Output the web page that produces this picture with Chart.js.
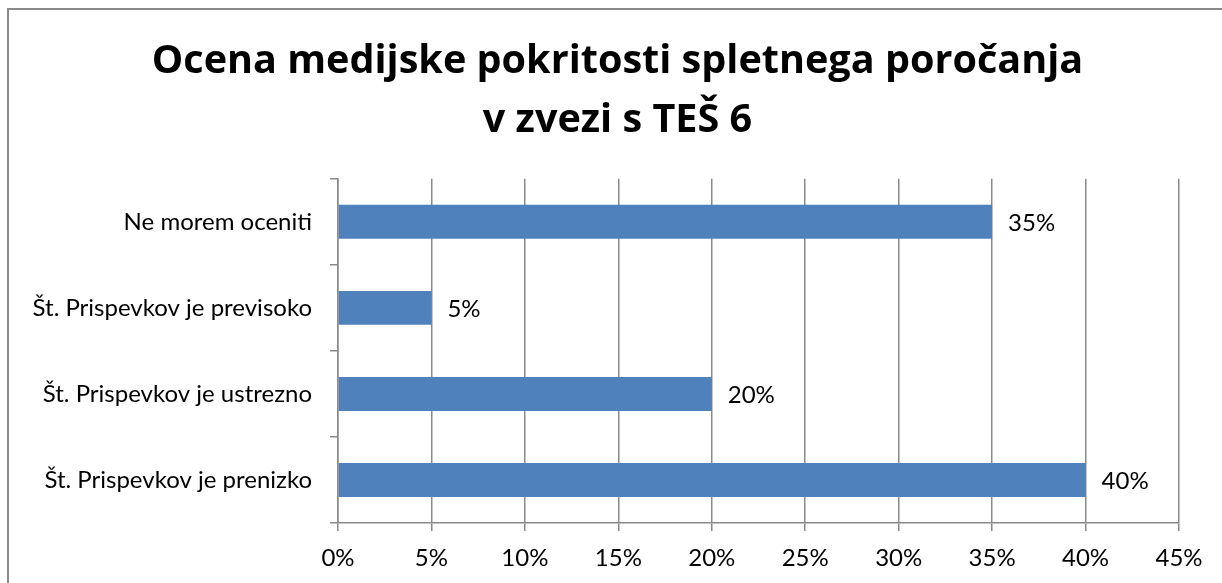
<!DOCTYPE html>
<html>
<head>
<meta charset="utf-8">
<script src="https://cdn.jsdelivr.net/npm/chart.js@4/dist/chart.umd.min.js"></script>
<style>
  html, body { margin: 0; padding: 0; background: #fff; overflow: hidden; }
  #wrap { position: absolute; left: 0; top: 0; width: 1222px; height: 583px; }
  #frame { position: absolute; left: 7px; top: 8px; width: 1300px; height: 700px;
           border-left: 2px solid #8a8a8a; border-top: 2px solid #8a8a8a; box-sizing: border-box; pointer-events: none; }
  canvas { position: absolute; left: 0; top: 0; }
</style>
</head>
<body>
<div id="wrap">
  <canvas id="c" width="1222" height="583"></canvas>
  <div id="frame"></div>
</div>
<script>
const titleLines = ['Ocena medijske pokritosti spletnega poročanja', 'v zvezi s TEŠ 6'];
const categories = ['Ne morem oceniti', 'Št. Prispevkov je previsoko', 'Št. Prispevkov je ustrezno', 'Št. Prispevkov je prenizko'];
const values = [35, 5, 20, 40];
const xTickValues = [0, 5, 10, 15, 20, 25, 30, 35, 40, 45];

const FONT = 'Lato, Calibri, Carlito, sans-serif';
const TITLE_FONT = '"Open Sans", Calibri, Carlito, sans-serif';
const LABEL_SIZE = 24;
const TITLE_SHIFT = 28;

const valueLabels = {
  id: 'valueLabels',
  afterLayout(chart) {
    const t = chart.titleBlock;
    if (t) { t.left += TITLE_SHIFT; t.right += TITLE_SHIFT; }
  },
  afterDatasetsDraw(chart) {
    const ctx = chart.ctx;
    const meta = chart.getDatasetMeta(0);
    ctx.save();
    ctx.font = LABEL_SIZE + 'px ' + FONT;
    ctx.fillStyle = '#000';
    ctx.textAlign = 'left';
    ctx.textBaseline = 'middle';
    meta.data.forEach((bar, i) => {
      ctx.fillText(values[i] + '%', bar.x + 16, bar.y + 1);
    });
    ctx.restore();
  }
};

new Chart(document.getElementById('c'), {
  type: 'bar',
  data: {
    labels: categories,
    datasets: [{
      data: values,
      backgroundColor: '#4f81bd',
      borderWidth: 0,
      categoryPercentage: 1,
      barPercentage: 0.395
    }]
  },
  options: {
    indexAxis: 'y',
    responsive: false,
    animation: false,
    events: [],
    layout: { padding: { left: 0, right: 43, top: 0, bottom: 0 } },
    plugins: {
      legend: { display: false },
      tooltip: { enabled: false },
      title: {
        display: true,
        text: titleLines,
        color: '#000',
        font: { family: TITLE_FONT, size: 39.6, weight: 'bold', lineHeight: 1.5 },
        padding: { top: 32, bottom: 28 }
      }
    },
    scales: {
      x: {
        min: 0,
        max: 45,
        afterFit(s) { s.height = 60; },
        afterBuildTicks(s) { s.ticks = xTickValues.map(v => ({ value: v })); },
        ticks: {
          color: '#000',
          font: { family: FONT, size: LABEL_SIZE },
          padding: 13,
          maxRotation: 0,
          callback: v => v + '%'
        },
        grid: { color: '#8a8a8a', lineWidth: 1.5, tickLength: 8, drawTicks: true },
        border: { display: true, color: '#8a8a8a', width: 1.5 }
      },
      y: {
        afterFit(s) { s.width = 338; },
        ticks: {
          color: '#000',
          font: { family: FONT, size: LABEL_SIZE },
          padding: 18
        },
        grid: { drawOnChartArea: false, offset: true, color: '#8a8a8a', lineWidth: 1.5, tickLength: 8 },
        border: { display: true, color: '#8a8a8a', width: 1.5 }
      }
    }
  },
  plugins: [valueLabels]
});
</script>
</body>
</html>
